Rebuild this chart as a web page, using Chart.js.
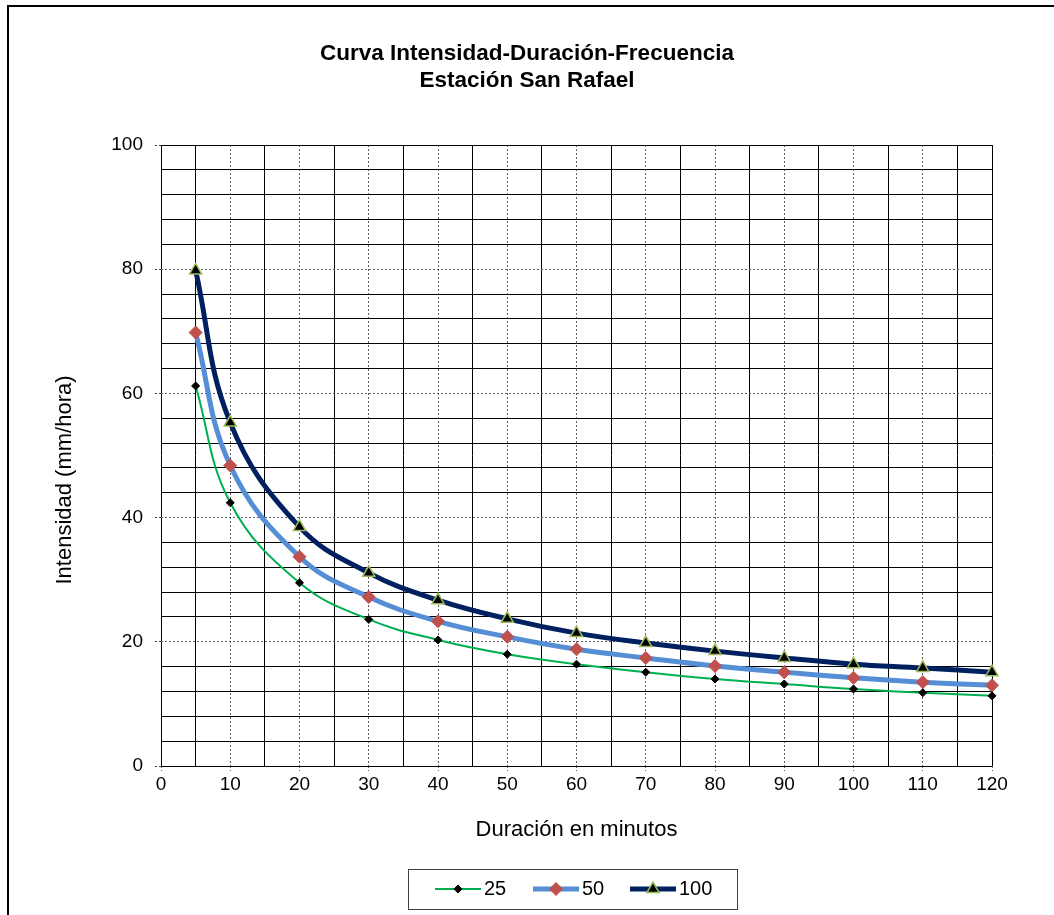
<!DOCTYPE html>
<html>
<head>
<meta charset="utf-8">
<script src="https://cdn.jsdelivr.net/npm/chart.js@4/dist/chart.umd.min.js"></script>
<style>
  html, body { margin: 0; padding: 0; background: #fff; }
  #wrap { width: 1054px; height: 915px; }
</style>
</head>
<body>
<div id="wrap"><canvas id="idf"></canvas></div>
<script>
// durations (min) and intensities (mm/hora) per return period
const durations = [5, 10, 20, 30, 40, 50, 60, 70, 80, 90, 100, 110, 120];
const tr25  = [61.2, 42.4, 29.5, 23.6, 20.3, 18.0, 16.4, 15.1, 14.0, 13.2, 12.4, 11.8, 11.3];
const tr50  = [69.8, 48.4, 33.7, 27.2, 23.3, 20.8, 18.8, 17.4, 16.1, 15.1, 14.2, 13.5, 13.0];
const tr100 = [79.8, 55.3, 38.5, 31.1, 26.7, 23.7, 21.4, 19.8, 18.5, 17.4, 16.4, 15.8, 15.1];
const seriesNames = ['25', '50', '100'];

const FONT = "'Liberation Sans', Arial, sans-serif";

const toPoints = vals => vals.map((v, i) => ({ x: durations[i], y: v }));

// white background + the outer frame lines
const frame = {
    id: 'frame',
    beforeDraw(chart) {
        const ctx = chart.ctx;
        ctx.save();
        ctx.fillStyle = '#fff';
        ctx.fillRect(0, 0, chart.width, chart.height);
        ctx.restore();
    },
    afterDraw(chart) {
        const ctx = chart.ctx;
        ctx.save();
        ctx.strokeStyle = '#000';
        ctx.lineWidth = 2;
        ctx.beginPath();
        ctx.moveTo(8, chart.height);
        ctx.lineTo(8, 6);
        ctx.lineTo(chart.width, 6);
        ctx.stroke();
        ctx.restore();
    }
};

// rotated y title, a bit below the centre like the original
const yTitle = {
    id: 'yTitle',
    afterDraw(chart) {
        const ctx = chart.ctx;
        ctx.save();
        ctx.translate(65, 480);
        ctx.rotate(-Math.PI / 2);
        ctx.font = '22px ' + FONT;
        ctx.fillStyle = '#000';
        ctx.textAlign = 'center';
        ctx.textBaseline = 'middle';
        ctx.fillText('Intensidad (mm/hora)', 0, 0);
        ctx.restore();
    }
};

// boxed legend with line + marker samples
const boxLegend = {
    id: 'boxLegend',
    afterDraw(chart) {
        const ctx = chart.ctx;
        const left = 408, top = 869, w = 329, h = 40;
        const cy = top + h / 2;
        const starts = [435, 533, 630];
        ctx.save();
        ctx.strokeStyle = '#404040';
        ctx.lineWidth = 1;
        ctx.strokeRect(left + 0.5, top + 0.5, w, h);
        chart.data.datasets.forEach((ds, i) => {
            const x0 = starts[i], x1 = x0 + 46;
            ctx.strokeStyle = ds.borderColor;
            ctx.lineWidth = ds.borderWidth;
            ctx.beginPath();
            ctx.moveTo(x0, cy);
            ctx.lineTo(x1, cy);
            ctx.stroke();
            ctx.fillStyle = ds.pointBackgroundColor;
            ctx.strokeStyle = ds.pointBorderColor;
            ctx.lineWidth = ds.pointBorderWidth;
            Chart.helpers.drawPoint(ctx, {
                pointStyle: ds.pointStyle,
                radius: ds.pointRadius,
                rotation: 0,
                borderWidth: ds.pointBorderWidth
            }, (x0 + x1) / 2, cy);
            ctx.fillStyle = '#000';
            ctx.font = '20px ' + FONT;
            ctx.textAlign = 'left';
            ctx.textBaseline = 'middle';
            ctx.fillText(ds.label, x1 + 3, cy);
        });
        ctx.restore();
    }
};

const ctx = document.getElementById('idf').getContext('2d');

new Chart(ctx, {
    type: 'line',
    data: {
        datasets: [
            {
                label: seriesNames[0],
                data: toPoints(tr25),
                borderColor: '#00b050',
                borderWidth: 2,
                pointStyle: 'rectRot',
                pointRadius: 4,
                pointBackgroundColor: '#000',
                pointBorderColor: '#000',
                pointBorderWidth: 1,
                tension: 0.4,
                clip: false
            },
            {
                label: seriesNames[1],
                data: toPoints(tr50),
                borderColor: '#558ed5',
                borderWidth: 5,
                pointStyle: 'rectRot',
                pointRadius: 6.5,
                pointBackgroundColor: '#c0504d',
                pointBorderColor: '#c0504d',
                pointBorderWidth: 1,
                tension: 0.4,
                clip: false
            },
            {
                label: seriesNames[2],
                data: toPoints(tr100),
                borderColor: '#002060',
                borderWidth: 5,
                pointStyle: 'triangle',
                pointRadius: 7,
                pointBackgroundColor: '#000',
                pointBorderColor: '#9bbb59',
                pointBorderWidth: 1.5,
                tension: 0.4,
                clip: false
            }
        ]
    },
    options: {
        responsive: true,
        maintainAspectRatio: false,
        animation: false,
        layout: { padding: { left: 0, right: 0, top: 0, bottom: 60 } },
        plugins: {
            legend: { display: false },
            tooltip: { enabled: false },
            title: {
                display: true,
                text: ['Curva Intensidad-Duración-Frecuencia', 'Estación San Rafael'],
                color: '#000',
                font: { family: FONT, size: 22.5, weight: 'bold', lineHeight: 1.2 },
                padding: { top: 40, bottom: 51 }
            }
        },
        scales: {
            x: {
                type: 'linear',
                min: 0, max: 120,
                afterFit: s => { s.height = 89; },
                ticks: { stepSize: 10, color: '#000', padding: 2, font: { family: FONT, size: 19 } },
                grid: {
                    color: c => (c.tick.value === 0 || c.tick.value === 120) ? 'rgba(0,0,0,0)' : '#606060',
                    tickColor: '#606060',
                    tickLength: 5,
                    tickBorderDash: [2, 2]
                },
                border: { display: false, dash: [2, 2] },
                title: {
                    display: true,
                    text: 'Duración en minutos',
                    color: '#000',
                    font: { family: FONT, size: 22 },
                    padding: { top: 0, bottom: 12 }
                }
            },
            x2: {
                type: 'linear',
                position: 'top',
                min: 0, max: 120,
                afterFit: s => { s.height = 0; },
                ticks: { stepSize: 5, display: false },
                grid: {
                    color: c => (c.tick.value % 10 !== 0 || c.tick.value === 0 || c.tick.value === 120) ? '#000' : 'rgba(0,0,0,0)',
                    drawTicks: false
                },
                border: { display: false }
            },
            y: {
                min: 0, max: 100,
                afterFit: s => { s.width = 161; },
                ticks: { stepSize: 20, color: '#000', padding: 12, font: { family: FONT, size: 19 } },
                grid: {
                    color: c => (c.tick.value === 0 || c.tick.value === 100) ? 'rgba(0,0,0,0)' : '#606060',
                    tickColor: '#404040',
                    tickLength: 6,
                    tickBorderDash: [2, 2]
                },
                border: { display: false, dash: [2, 2] }
            },
            y2: {
                position: 'right',
                min: 0, max: 100,
                afterFit: s => { s.width = 62; },
                ticks: { stepSize: 4, display: false },
                grid: {
                    color: c => (c.tick.value % 20 !== 0 || c.tick.value === 0 || c.tick.value === 100) ? '#000' : 'rgba(0,0,0,0)',
                    drawTicks: false
                },
                border: { display: false }
            }
        }
    },
    plugins: [frame, yTitle, boxLegend]
});
</script>
</body>
</html>
